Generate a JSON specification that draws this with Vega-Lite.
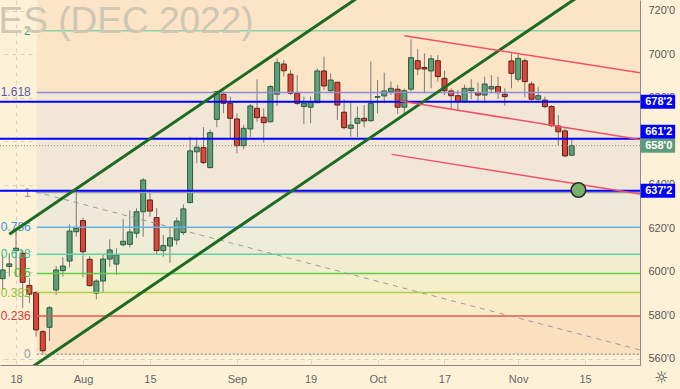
{
  "$schema": "https://vega.github.io/schema/vega-lite/v6.json",
  "width": 640,
  "height": 365,
  "autosize": {"type": "none"},
  "padding": {"left": 0, "top": 0, "right": 40, "bottom": 24},
  "background": "#fdf2d8",
  "config": {"view": {"stroke": null, "fill": "#fdf2d8"}, "font": "Liberation Sans"},
  "datasets": {
    "candles": [
      {"d":"2022-07-14","i":-2,"o":596.8,"h":607.7,"l":591.6,"c":600.8},
      {"d":"2022-07-15","i":-1,"o":602.4,"h":608.5,"l":597.7,"c":603.6},
      {"d":"2022-07-18","i":0,"o":609.7,"h":620.0,"l":597.7,"c":610.8},
      {"d":"2022-07-19","i":1,"o":608.5,"h":610.0,"l":583.2,"c":595.1},
      {"d":"2022-07-20","i":2,"o":593.7,"h":597.0,"l":585.5,"c":589.7},
      {"d":"2022-07-21","i":3,"o":590.5,"h":590.8,"l":570.1,"c":573.2},
      {"d":"2022-07-22","i":4,"o":572.4,"h":573.2,"l":561.7,"c":563.6},
      {"d":"2022-07-25","i":5,"o":574.4,"h":584.2,"l":568.1,"c":583.4},
      {"d":"2022-07-26","i":6,"o":591.6,"h":602.6,"l":589.3,"c":600.8},
      {"d":"2022-07-27","i":7,"o":600.5,"h":606.6,"l":597.7,"c":602.6},
      {"d":"2022-07-28","i":8,"o":604.9,"h":621.8,"l":602.0,"c":618.7},
      {"d":"2022-07-29","i":9,"o":618.4,"h":638.4,"l":616.1,"c":620.0},
      {"d":"2022-08-01","i":10,"o":623.5,"h":624.9,"l":597.4,"c":609.2},
      {"d":"2022-08-02","i":11,"o":605.7,"h":607.2,"l":593.1,"c":593.6},
      {"d":"2022-08-03","i":12,"o":590.1,"h":596.5,"l":587.3,"c":595.7},
      {"d":"2022-08-04","i":13,"o":595.7,"h":608.1,"l":590.3,"c":605.8},
      {"d":"2022-08-05","i":14,"o":605.8,"h":614.9,"l":602.3,"c":610.0},
      {"d":"2022-08-08","i":15,"o":603.5,"h":610.8,"l":598.5,"c":607.8},
      {"d":"2022-08-09","i":16,"o":612.4,"h":624.3,"l":611.6,"c":614.0},
      {"d":"2022-08-10","i":17,"o":612.6,"h":628.1,"l":611.2,"c":618.3},
      {"d":"2022-08-11","i":18,"o":617.7,"h":629.2,"l":615.4,"c":627.6},
      {"d":"2022-08-12","i":19,"o":627.6,"h":643.0,"l":616.1,"c":642.2},
      {"d":"2022-08-15","i":20,"o":633.0,"h":637.9,"l":625.3,"c":627.9},
      {"d":"2022-08-16","i":21,"o":624.9,"h":629.2,"l":607.7,"c":609.7},
      {"d":"2022-08-17","i":22,"o":609.7,"h":616.9,"l":606.9,"c":612.0},
      {"d":"2022-08-18","i":23,"o":611.8,"h":620.7,"l":604.1,"c":615.6},
      {"d":"2022-08-19","i":24,"o":614.6,"h":625.0,"l":612.3,"c":623.3},
      {"d":"2022-08-22","i":25,"o":618.0,"h":631.0,"l":616.9,"c":628.9},
      {"d":"2022-08-23","i":26,"o":631.8,"h":662.1,"l":631.5,"c":655.6},
      {"d":"2022-08-24","i":27,"o":655.2,"h":661.7,"l":649.9,"c":657.3},
      {"d":"2022-08-25","i":28,"o":657.1,"h":666.5,"l":649.6,"c":650.2},
      {"d":"2022-08-26","i":29,"o":647.9,"h":665.5,"l":647.6,"c":664.0},
      {"d":"2022-08-29","i":30,"o":670.1,"h":683.3,"l":666.5,"c":682.9},
      {"d":"2022-08-30","i":31,"o":681.7,"h":682.9,"l":672.9,"c":677.5},
      {"d":"2022-08-31","i":32,"o":677.5,"h":680.6,"l":661.0,"c":670.6},
      {"d":"2022-09-01","i":33,"o":670.3,"h":672.9,"l":654.5,"c":658.0},
      {"d":"2022-09-02","i":34,"o":658.0,"h":667.5,"l":656.3,"c":666.0},
      {"d":"2022-09-06","i":35,"o":665.7,"h":677.1,"l":661.9,"c":676.3},
      {"d":"2022-09-07","i":36,"o":675.2,"h":688.6,"l":669.0,"c":670.9},
      {"d":"2022-09-08","i":37,"o":671.1,"h":675.2,"l":659.4,"c":668.6},
      {"d":"2022-09-09","i":38,"o":669.0,"h":685.9,"l":668.8,"c":685.2},
      {"d":"2022-09-12","i":39,"o":681.7,"h":698.2,"l":676.3,"c":696.2},
      {"d":"2022-09-13","i":40,"o":695.6,"h":697.4,"l":689.8,"c":692.5},
      {"d":"2022-09-14","i":41,"o":690.9,"h":692.8,"l":681.3,"c":682.1},
      {"d":"2022-09-15","i":42,"o":682.1,"h":690.5,"l":676.7,"c":677.5},
      {"d":"2022-09-16","i":43,"o":676.0,"h":680.6,"l":668.0,"c":677.5},
      {"d":"2022-09-19","i":44,"o":675.7,"h":680.6,"l":668.3,"c":678.3},
      {"d":"2022-09-20","i":45,"o":677.8,"h":693.6,"l":677.5,"c":692.4},
      {"d":"2022-09-21","i":46,"o":692.4,"h":699.0,"l":683.6,"c":685.5},
      {"d":"2022-09-22","i":47,"o":683.3,"h":691.3,"l":682.1,"c":688.2},
      {"d":"2022-09-23","i":48,"o":687.2,"h":687.5,"l":669.8,"c":676.7},
      {"d":"2022-09-26","i":49,"o":673.4,"h":679.4,"l":665.5,"c":666.3},
      {"d":"2022-09-27","i":50,"o":666.0,"h":678.3,"l":662.1,"c":667.5},
      {"d":"2022-09-28","i":51,"o":668.3,"h":676.0,"l":661.9,"c":670.6},
      {"d":"2022-09-29","i":52,"o":670.6,"h":676.7,"l":666.5,"c":669.4},
      {"d":"2022-09-30","i":53,"o":669.5,"h":696.7,"l":669.0,"c":677.5},
      {"d":"2022-10-03","i":54,"o":680.3,"h":688.2,"l":672.9,"c":680.6},
      {"d":"2022-10-04","i":55,"o":680.9,"h":691.6,"l":677.5,"c":683.2},
      {"d":"2022-10-05","i":56,"o":682.9,"h":687.5,"l":681.3,"c":684.4},
      {"d":"2022-10-06","i":57,"o":684.0,"h":686.0,"l":672.6,"c":675.7},
      {"d":"2022-10-07","i":58,"o":675.7,"h":684.4,"l":672.1,"c":683.3},
      {"d":"2022-10-10","i":59,"o":684.0,"h":707.0,"l":682.9,"c":698.5},
      {"d":"2022-10-11","i":60,"o":697.1,"h":702.4,"l":690.5,"c":693.3},
      {"d":"2022-10-12","i":61,"o":694.0,"h":700.5,"l":682.1,"c":693.3},
      {"d":"2022-10-13","i":62,"o":692.4,"h":699.7,"l":684.4,"c":698.0},
      {"d":"2022-10-14","i":63,"o":697.1,"h":699.7,"l":687.5,"c":689.8},
      {"d":"2022-10-17","i":64,"o":689.0,"h":692.5,"l":681.3,"c":683.3},
      {"d":"2022-10-18","i":65,"o":683.2,"h":684.4,"l":674.8,"c":681.0},
      {"d":"2022-10-19","i":66,"o":681.0,"h":683.6,"l":674.4,"c":678.3},
      {"d":"2022-10-20","i":67,"o":678.3,"h":686.0,"l":677.8,"c":684.4},
      {"d":"2022-10-21","i":68,"o":683.3,"h":688.6,"l":679.4,"c":684.4},
      {"d":"2022-10-24","i":69,"o":682.4,"h":687.0,"l":677.8,"c":681.3},
      {"d":"2022-10-25","i":70,"o":681.3,"h":689.8,"l":677.8,"c":686.4},
      {"d":"2022-10-26","i":71,"o":684.1,"h":690.5,"l":682.1,"c":685.2},
      {"d":"2022-10-27","i":72,"o":685.2,"h":689.8,"l":679.4,"c":682.4},
      {"d":"2022-10-28","i":73,"o":681.7,"h":684.4,"l":676.4,"c":680.6},
      {"d":"2022-10-31","i":74,"o":697.0,"h":700.5,"l":684.4,"c":691.3},
      {"d":"2022-11-01","i":75,"o":688.6,"h":700.5,"l":687.5,"c":698.2},
      {"d":"2022-11-02","i":76,"o":697.1,"h":698.2,"l":680.3,"c":687.5},
      {"d":"2022-11-03","i":77,"o":686.4,"h":687.5,"l":678.3,"c":679.4},
      {"d":"2022-11-04","i":78,"o":679.4,"h":685.2,"l":677.8,"c":681.0},
      {"d":"2022-11-07","i":79,"o":679.0,"h":680.6,"l":675.2,"c":676.0},
      {"d":"2022-11-08","i":80,"o":676.0,"h":676.7,"l":666.5,"c":667.2},
      {"d":"2022-11-09","i":81,"o":667.1,"h":672.1,"l":658.3,"c":664.4},
      {"d":"2022-11-10","i":82,"o":664.8,"h":666.0,"l":652.7,"c":653.3},
      {"d":"2022-11-11","i":83,"o":653.6,"h":661.1,"l":653.3,"c":658.0}
    ],
    "fibz": [
      {"lo":562.0,"hi":579.6,"fill":"#fbe0c0"},
      {"lo":579.6,"hi":590.4,"fill":"#f8edc6"},
      {"lo":590.4,"hi":599.2,"fill":"#f5efca"},
      {"lo":599.2,"hi":608.0,"fill":"#f1eecf"},
      {"lo":608.0,"hi":620.5,"fill":"#eeecd6"},
      {"lo":620.5,"hi":636.45,"fill":"#efe9da"},
      {"lo":636.45,"hi":682.5,"fill":"#f2e7d6"},
      {"lo":682.5,"hi":710.9,"fill":"#fbe5c6"},
      {"lo":710.9,"hi":725.06,"fill":"#fbe5c6"}
    ],
    "fibl": [
      {"lab":"2","p":710.9,"lc":"#86d4a8","tc":"#2eab7a"},
      {"lab":"1.618","p":682.5,"lc":"#8c8cd6","tc":"#5a5ab0"},
      {"lab":"1","p":636.45,"lc":"#9e9e9e","tc":"#9a9a9a"},
      {"lab":"0.786","p":620.5,"lc":"#64b0e6","tc":"#3f97d6"},
      {"lab":"0.618","p":608.0,"lc":"#5ad3a6","tc":"#2ec48c"},
      {"lab":"0.5","p":599.2,"lc":"#5ccf45","tc":"#3ec42a"},
      {"lab":"0.382","p":590.4,"lc":"#a9cf47","tc":"#93bd2a"},
      {"lab":"0.236","p":579.6,"lc":"#e8554e","tc":"#dc3a33"},
      {"lab":"0","p":562.0,"lc":"#a0a0a0","tc":"#9a9a9a"}
    ],
    "green": [
      {"id":"a","t":-1,"p":617.2},{"id":"a","t":55,"p":734.4},
      {"id":"b","t":2,"p":555.3},{"id":"b","t":86,"p":730.8}
    ],
    "red": [
      {"id":"r1","t":58,"p":708.6},{"id":"r1","t":93.2,"p":691.6},
      {"id":"r2","t":57.4,"p":678.6},{"id":"r2","t":93.2,"p":660.8},
      {"id":"r3","t":56.1,"p":654.0},{"id":"r3","t":93.2,"p":635.8}
    ],
    "dash": [{"t":2.84,"p":636.8},{"t":93.2,"p":564.0}],
    "blue": [{"p":678.25},{"p":661.25},{"p":637.25}],
    "bluebadges": [{"lab":"678'2","p":678.25},{"lab":"637'2","p":637.25}]
  },
  "layer": [
    {
      "data": {"name": "fibz"},
      "mark": {"type": "rect", "clip": true},
      "encoding": {
        "x": {"datum": 3.1, "type": "quantitative",
          "scale": {"domain": [-2.39, 93.2], "nice": false, "zero": false, "padding": 0},
          "axis": {"values": [0,10,20,33,44,54,64,75,85],
            "labelExpr": "datum.value==0?'18':datum.value==10?'Aug':datum.value==20?'15':datum.value==33?'Sep':datum.value==44?'19':datum.value==54?'Oct':datum.value==64?'17':datum.value==75?'Nov':'15'",
            "title": null, "grid": true, "gridDash": [4,4], "gridColor": "#d6d0c4", "ticks": false,
            "domainColor": "#8a8a8a", "labelColor": "#666666", "labelFontSize": 11, "labelPadding": 8, "labelFlush": false, "zindex": 0}},
        "x2": {"datum": 93.2},
        "y": {"field": "lo", "type": "quantitative",
          "scale": {"domain": [557.05, 725.06], "nice": false, "zero": false, "padding": 0},
          "axis": {"orient": "right", "values": [560,580,600,620,640,660,680,700,720],
            "labelExpr": "datum.value + \"'0\"",
            "title": null, "grid": true, "gridDash": [4,4], "gridColor": "#d6d0c4", "ticks": false,
            "domainColor": "#8a8a8a", "labelColor": "#555555", "labelFontSize": 11, "labelPadding": 8, "labelFlush": false, "zindex": 0}},
        "y2": {"field": "hi"},
        "fill": {"field": "fill", "type": "nominal", "scale": null}
      }
    },
    {
      "data": {"name": "candles"},
      "mark": {"type": "rule", "color": "#7a7a7a", "strokeWidth": 1},
      "encoding": {
        "x": {"field": "i", "type": "quantitative"},
        "y": {"field": "l", "type": "quantitative"},
        "y2": {"field": "h"}
      }
    },
    {
      "data": {"name": "candles"},
      "mark": {"type": "bar", "size": 5, "strokeWidth": 1},
      "encoding": {
        "x": {"field": "i", "type": "quantitative"},
        "y": {"field": "o", "type": "quantitative"},
        "y2": {"field": "c"},
        "fill": {"condition": {"test": "datum.c >= datum.o", "value": "#5f9f7b"}, "value": "#d9473b"},
        "stroke": {"condition": {"test": "datum.c >= datum.o", "value": "#2d5a3d"}, "value": "#5e2018"}
      }
    },
    {
      "data": {"name": "fibl"},
      "mark": {"type": "rule", "strokeWidth": 1.5, "clip": true},
      "encoding": {
        "x": {"datum": 3.1, "type": "quantitative"},
        "x2": {"datum": 93.2},
        "y": {"field": "p", "type": "quantitative"},
        "color": {"field": "lc", "type": "nominal", "scale": null},
        "strokeDash": {"condition": {"test": "datum.lab == '0'", "value": [2, 2]}, "value": [1, 0]}
      }
    },
    {
      "data": {"name": "fibl"},
      "mark": {"type": "text", "align": "right", "baseline": "middle", "fontSize": 12},
      "encoding": {
        "x": {"datum": 2.2, "type": "quantitative"},
        "y": {"field": "p", "type": "quantitative"},
        "text": {"field": "lab"},
        "color": {"field": "tc", "type": "nominal", "scale": null}
      }
    },
    {
      "data": {"name": "dash"},
      "mark": {"type": "line", "color": "#9a9a9a", "strokeWidth": 1, "strokeDash": [5,5], "clip": true},
      "encoding": {
        "x": {"field": "t", "type": "quantitative"},
        "y": {"field": "p", "type": "quantitative"}
      }
    },
    {
      "data": {"name": "blue"},
      "mark": {"type": "rule", "color": "#0000ff", "strokeWidth": 2},
      "encoding": {"y": {"field": "p", "type": "quantitative"}}
    },
    {
      "data": {"values": [{"p": 658.0}]},
      "mark": {"type": "rule", "color": "#8a8a8a", "strokeWidth": 1, "strokeDash": [1,2]},
      "encoding": {"y": {"field": "p", "type": "quantitative"}}
    },
    {
      "data": {"name": "green"},
      "mark": {"type": "line", "color": "#1c6b22", "strokeWidth": 3, "clip": true},
      "encoding": {
        "x": {"field": "t", "type": "quantitative"},
        "y": {"field": "p", "type": "quantitative"},
        "detail": {"field": "id"}
      }
    },
    {
      "data": {"name": "red"},
      "mark": {"type": "line", "color": "#f25066", "strokeWidth": 1.5, "clip": true},
      "encoding": {
        "x": {"field": "t", "type": "quantitative"},
        "y": {"field": "p", "type": "quantitative"},
        "detail": {"field": "id"}
      }
    },
    {
      "data": {"values": [{"t": 84, "p": 637.6}]},
      "mark": {"type": "point", "filled": true, "size": 210, "fill": "#78b26a", "stroke": "#2a2a2a", "strokeWidth": 1.5, "opacity": 1},
      "encoding": {
        "x": {"field": "t", "type": "quantitative"},
        "y": {"field": "p", "type": "quantitative"}
      }
    },
    {
      "data": {"values": [{"txt": "ES (DEC 2022)"}]},
      "mark": {"type": "text", "align": "left", "baseline": "alphabetic", "font": "Liberation Sans", "fontSize": 37, "color": "#cfc6b4", "clip": true},
      "encoding": {
        "x": {"datum": -2.6, "type": "quantitative"},
        "y": {"datum": 709.8, "type": "quantitative"},
        "text": {"field": "txt"}
      }
    },
    {
      "data": {"name": "bluebadges"},
      "mark": {"type": "bar", "orient": "horizontal", "size": 14, "color": "#0000ff"},
      "encoding": {
        "x": {"datum": 93.3, "type": "quantitative"},
        "x2": {"datum": 98.45},
        "y": {"field": "p", "type": "quantitative"}
      }
    },
    {
      "data": {"values": [{"lab": "661'2", "p": 661.25}]},
      "mark": {"type": "bar", "orient": "horizontal", "size": 14, "color": "#0000ff", "yOffset": -7},
      "encoding": {
        "x": {"datum": 93.3, "type": "quantitative"},
        "x2": {"datum": 98.45},
        "y": {"field": "p", "type": "quantitative"}
      }
    },
    {
      "data": {"values": [{"lab": "658'0", "p": 658.0}]},
      "mark": {"type": "bar", "orient": "horizontal", "size": 14, "color": "#5f9c7b"},
      "encoding": {
        "x": {"datum": 93.3, "type": "quantitative"},
        "x2": {"datum": 98.45},
        "y": {"field": "p", "type": "quantitative"}
      }
    },
    {
      "data": {"name": "bluebadges"},
      "mark": {"type": "text", "align": "center", "baseline": "middle", "fontSize": 11, "fontWeight": "bold", "color": "#ffffff"},
      "encoding": {
        "x": {"datum": 96.0, "type": "quantitative"},
        "y": {"field": "p", "type": "quantitative"},
        "text": {"field": "lab"}
      }
    },
    {
      "data": {"values": [{"lab": "661'2", "p": 661.25}]},
      "mark": {"type": "text", "align": "center", "baseline": "middle", "fontSize": 11, "fontWeight": "bold", "color": "#ffffff", "yOffset": -7},
      "encoding": {
        "x": {"datum": 96.0, "type": "quantitative"},
        "y": {"field": "p", "type": "quantitative"},
        "text": {"field": "lab"}
      }
    },
    {
      "data": {"values": [{"lab": "658'0", "p": 658.0}]},
      "mark": {"type": "text", "align": "center", "baseline": "middle", "fontSize": 11, "fontWeight": "bold", "color": "#ffffff"},
      "encoding": {
        "x": {"datum": 96.0, "type": "quantitative"},
        "y": {"field": "p", "type": "quantitative"},
        "text": {"field": "lab"}
      }
    },
    {
      "data": {"values": [{"txt": "☼"}]},
      "mark": {"type": "text", "align": "center", "baseline": "middle", "fontSize": 16, "font": "DejaVu Sans", "color": "#444444"},
      "encoding": {
        "x": {"datum": 96.4, "type": "quantitative"},
        "y": {"datum": 551.2, "type": "quantitative"},
        "text": {"field": "txt"}
      }
    }
  ]
}
